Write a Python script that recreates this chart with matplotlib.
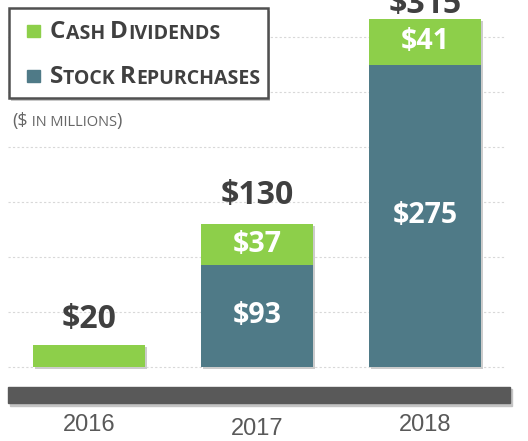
import matplotlib
matplotlib.use("Agg")
import matplotlib.pyplot as plt
import numpy as np

years = ["2016", "2017", "2018"]
dividends = [20, 37, 41]
repurchases = [0, 93, 275]
totals = [20, 130, 315]
legend_labels = [[("C", 1), ("ASH ", 0), ("D", 1), ("IVIDENDS", 0)],
                 [("S", 1), ("TOCK ", 0), ("R", 1), ("EPURCHASES", 0)]]
units_label = [("($", 1), (" IN MILLIONS", 0), (")", 1)]

GREEN = "#8dcf4a"
TEAL = "#4f7a87"
DARK = "#404040"

W, H = 528, 441
fig = plt.figure(figsize=(W / 100, H / 100), dpi=100)
ax = fig.add_axes([0, 0, 1, 1])

# pixel mapping: bar centres at 89 + 168*i, baseline at y=367, 1.1 px per unit
px_per_unit = 1.1
ax.set_xlim(-89 / 168, (W - 89) / 168)
ax.set_ylim(-(H - 367) / px_per_unit, 367 / px_per_unit)
ax.axis("off")

x = np.arange(len(years))
width = 112 / 168

# dotted gridlines
for g in range(0, 301, 50):
    ax.axhline(g, xmin=8 / W, xmax=505 / W, color="#d8d8d8", lw=0.8,
               ls=(0, (2, 2)), zorder=0)

# subtle shadows
shadow = 2 / 168
ax.bar(x + shadow, np.array(dividends) + np.array(repurchases), width,
       bottom=-2 / px_per_unit, color="#cccccc", zorder=1)
ax.bar(x, repurchases, width, color=TEAL, zorder=2)
ax.bar(x, dividends, width, bottom=repurchases, color=GREEN, zorder=2)

# gap (px) between bar top and total label baseline
total_gap = [17, 20, 7]

for i in range(len(years)):
    if repurchases[i] > 0:
        ax.text(x[i], repurchases[i] / 2, f"${repurchases[i]}", ha="center",
                va="center", color="white", fontsize=20.5, fontweight="bold",
                family="Open Sans", zorder=3)
        ax.text(x[i], repurchases[i] + dividends[i] / 2, f"${dividends[i]}",
                ha="center", va="center", color="white", fontsize=20.5,
                fontweight="bold", family="Open Sans", zorder=3)
    ax.text(x[i], totals[i] + total_gap[i] / px_per_unit, f"${totals[i]}",
            ha="center", va="baseline", color=DARK, fontsize=23,
            fontweight="bold", family="Open Sans", zorder=3)

# dark axis band
ax.axhspan(-(387 - 367) / px_per_unit, -(403 - 367) / px_per_unit,
           xmin=8 / W, xmax=510 / W, color="#595959", zorder=2)
ax.axhspan(-(389 - 367) / px_per_unit, -(406 - 367) / px_per_unit,
           xmin=10 / W, xmax=512 / W, color="#c4c4c4", zorder=1)

# year labels
year_y = [425, 429, 425]
for i, yr in enumerate(years):
    ax.text(x[i], -(year_y[i] - 367) / px_per_unit, yr, ha="center",
            va="center", color="#595959", fontsize=17, family="Liberation Sans")


def small_caps(px, py, pieces, big, small, color, weight):
    # fake small caps: chain text pieces left to right
    prev = None
    for s, is_big in pieces:
        size = big if is_big else small
        kw = dict(fontsize=size, color=color, fontweight=weight,
                  family="Open Sans", ha="left", zorder=7)
        if prev is None:
            prev = ax.text(px / W, 1 - py / H, s, transform=fig.transFigure,
                           va="baseline", **kw)
        else:
            prev = ax.annotate(s, xy=(1, 0), xycoords=prev, va="bottom", **kw)


# legend box
ax.add_patch(plt.Rectangle((11 / W, 1 - 101 / H), 259 / W, 90 / H,
                           transform=fig.transFigure, facecolor="#c8c8c8",
                           edgecolor="none", zorder=5, clip_on=False))
ax.add_patch(plt.Rectangle((9 / W, 1 - 98 / H), 259 / W, 90 / H,
                           transform=fig.transFigure, facecolor="white",
                           edgecolor="#505050", lw=1.8, zorder=6, clip_on=False))
for j, c in enumerate([GREEN, TEAL]):
    ax.add_patch(plt.Rectangle((27 / W, 1 - (37 + 45 * j) / H), 13 / W, 12 / H,
                               transform=fig.transFigure, color=c, zorder=7,
                               clip_on=False))
    small_caps(50, 38 + 45 * j, legend_labels[j], 17.5, 14, DARK, "bold")

small_caps(12, 126, units_label, 13, 10.5, "#666666", "normal")

fig.savefig("out.png", dpi=100)
